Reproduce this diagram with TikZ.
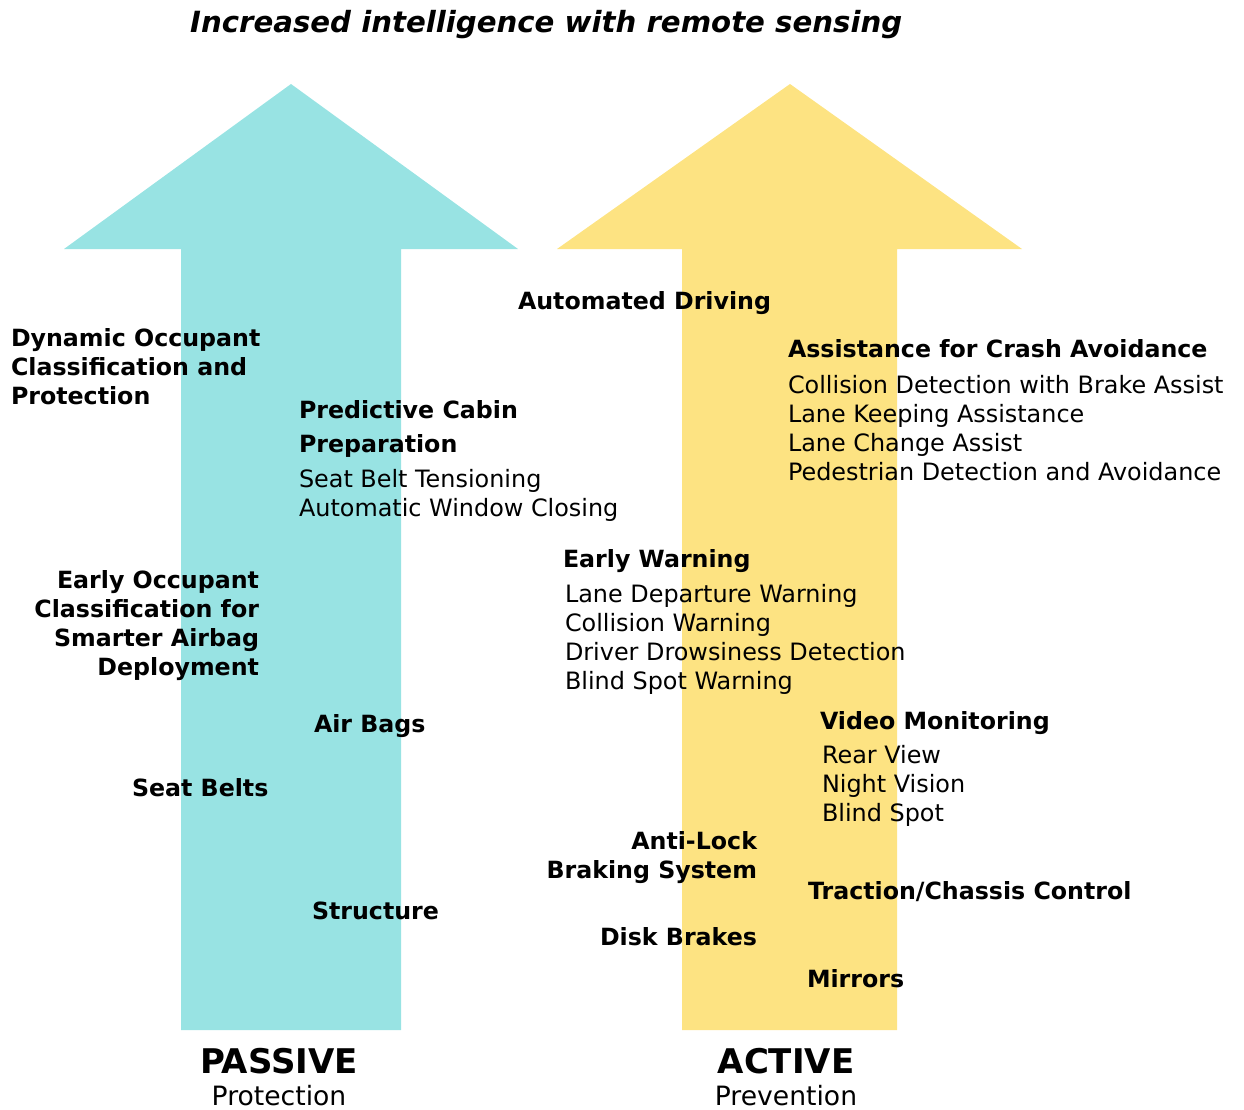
\documentclass[tikz,border=0pt]{standalone}
\usepackage{fontspec}
\setmainfont{DejaVu Sans}
\definecolor{passivecyan}{HTML}{98E3E3}
\definecolor{activeyellow}{HTML}{FDE382}
\tikzset{
  bodytxt/.style={inner sep=0pt, outer sep=0pt, font=\fontsize{23.9}{28}\selectfont},
  headtxt/.style={inner sep=0pt, outer sep=0pt, font=\fontsize{23.7}{28}\selectfont\bfseries},
  lefttxt/.style={anchor=base west},
  righttxt/.style={anchor=base east},
  midtxt/.style={anchor=base},
}
\begin{document}
\begin{tikzpicture}[x=1pt,y=-1pt]
\useasboundingbox (0,0) rectangle (1244,1109);
% arrows
\fill[passivecyan] (181,1030) -- (181,249) -- (64,249) -- (291,84) -- (518,249) -- (401,249) -- (401,1030) -- cycle;
\fill[activeyellow] (682,1030) -- (682,249) -- (557,249) -- (790,84) -- (1022,249) -- (897,249) -- (897,1030) -- cycle;
% title
\node[inner sep=0pt, anchor=base west, font=\fontsize{29.2}{32}\selectfont\bfseries\itshape] (title) at (190,32) {Increased intelligence with remote sensing};
% passive side
\node[headtxt,lefttxt] (doc1) at (11,346) {Dynamic Occupant};
\node[headtxt,lefttxt] (doc2) at (11,375) {Classification and};
\node[headtxt,lefttxt] (doc3) at (11,404) {Protection};
\node[headtxt,lefttxt] (pcp1) at (299,418) {Predictive Cabin};
\node[headtxt,lefttxt] (pcp2) at (299,452) {Preparation};
\node[bodytxt,lefttxt] (pcp3) at (299,487) {Seat Belt Tensioning};
\node[bodytxt,lefttxt] (pcp4) at (299,516) {Automatic Window Closing};
\node[headtxt,righttxt] (eoc1) at (259,588) {Early Occupant};
\node[headtxt,righttxt] (eoc2) at (259,617) {Classification for};
\node[headtxt,righttxt] (eoc3) at (259,646) {Smarter Airbag};
\node[headtxt,righttxt] (eoc4) at (259,675) {Deployment};
\node[headtxt,lefttxt] (airbags) at (314,732) {Air Bags};
\node[headtxt,lefttxt] (seatbelts) at (132,796) {Seat Belts};
\node[headtxt,lefttxt] (structure) at (312,919) {Structure};
% active side
\node[headtxt,lefttxt] (autodrv) at (518,309) {Automated Driving};
\node[headtxt,lefttxt] (acaH) at (788,357) {Assistance for Crash Avoidance};
\node[bodytxt,lefttxt] (aca1) at (788,393) {Collision Detection with Brake Assist};
\node[bodytxt,lefttxt] (aca2) at (788,422) {Lane Keeping Assistance};
\node[bodytxt,lefttxt] (aca3) at (788,451) {Lane Change Assist};
\node[bodytxt,lefttxt] (aca4) at (788,480) {Pedestrian Detection and Avoidance};
\node[headtxt,lefttxt] (ewH) at (563,567) {Early Warning};
\node[bodytxt,lefttxt] (ew1) at (565,602) {Lane Departure Warning};
\node[bodytxt,lefttxt] (ew2) at (565,631) {Collision Warning};
\node[bodytxt,lefttxt] (ew3) at (565,660) {Driver Drowsiness Detection};
\node[bodytxt,lefttxt] (ew4) at (565,689) {Blind Spot Warning};
\node[headtxt,lefttxt] (vmH) at (820,729) {Video Monitoring};
\node[bodytxt,lefttxt] (vm1) at (822,763) {Rear View};
\node[bodytxt,lefttxt] (vm2) at (822,792) {Night Vision};
\node[bodytxt,lefttxt] (vm3) at (822,821) {Blind Spot};
\node[headtxt,righttxt] (abs1) at (757,849) {Anti-Lock};
\node[headtxt,righttxt] (abs2) at (757,878) {Braking System};
\node[headtxt,lefttxt] (traction) at (808,899) {Traction/Chassis Control};
\node[headtxt,righttxt] (disk) at (757,945) {Disk Brakes};
\node[headtxt,lefttxt] (mirrors) at (807,987) {Mirrors};
% bottom labels
\node[inner sep=0pt, midtxt, font=\fontsize{34}{38}\selectfont\bfseries] (passive) at (279,1073) {PASSIVE};
\node[inner sep=0pt, midtxt, font=\fontsize{26.6}{30}\selectfont] (protection) at (279,1105) {Protection};
\node[inner sep=0pt, midtxt, font=\fontsize{34}{38}\selectfont\bfseries] (active) at (786,1073) {ACTIVE};
\node[inner sep=0pt, midtxt, font=\fontsize{26.6}{30}\selectfont] (prevention) at (786,1105) {Prevention};
\end{tikzpicture}
\end{document}
